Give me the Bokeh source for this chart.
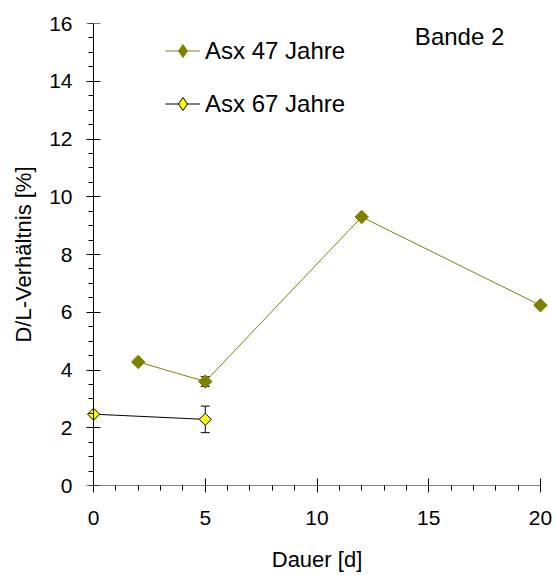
import numpy as np
from bokeh.plotting import figure
from bokeh.models import (ColumnDataSource, Whisker, TeeHead, Legend, LegendItem,
                          Label, FixedTicker, LinearAxis)
from bokeh.embed import file_html
from bokeh.resources import INLINE

# data
days_47 = [2, 5, 12, 20]
dl_47 = [4.28, 3.60, 9.30, 6.24]
err_47 = [0.0, 0.17, 0.0, 0.0]

days_67 = [0, 5]
dl_67 = [2.47, 2.29]
err_67 = [0.0, 0.46]

x_ticks = [0, 5, 10, 15, 20]
y_ticks = [0, 2, 4, 6, 8, 10, 12, 14, 16]

FONT = "Liberation Sans"
OLIVE = "#808000"

p = figure(width=555, height=577, x_range=(-0.45, 20.45), y_range=(0, 16),
           output_backend="svg", toolbar_location=None,
           min_border_left=83, min_border_right=5, min_border_top=23,
           min_border_bottom=92)
p.outline_line_color = None
p.grid.visible = False
p.background_fill_color = "white"
p.border_fill_color = "white"

# x axis
xa = p.xaxis[0]
xa.bounds = (0, 20)
xa.ticker = FixedTicker(ticks=x_ticks, minor_ticks=list(np.arange(0, 21, 1)))
xa.axis_line_color = "#808080"
xa.major_tick_line_color = "black"
xa.minor_tick_line_color = "black"
xa.major_tick_in = 7
xa.major_tick_out = 7
xa.minor_tick_in = 0
xa.minor_tick_out = 5
xa.major_label_standoff = 18
xa.axis_label = "Dauer [d]"
xa.axis_label_standoff = 19

# y axis: labels + title at frame edge (no line/ticks)
ya = p.yaxis[0]
ya.ticker = FixedTicker(ticks=y_ticks)
ya.axis_line_color = None
ya.major_tick_line_color = None
ya.minor_tick_line_color = None
ya.major_tick_in = 0
ya.major_tick_out = 0
ya.minor_tick_in = 0
ya.minor_tick_out = 0
ya.major_label_standoff = 11
ya.axis_label = "D/L-Verhältnis [%]"
ya.axis_label_standoff = 10

for ax in (xa, ya):
    ax.major_label_text_font = FONT
    ax.major_label_text_font_size = "21px"
    ax.major_label_text_color = "black"
    ax.axis_label_text_font = FONT
    ax.axis_label_text_font_size = "22px"
    ax.axis_label_text_font_style = "normal"
    ax.axis_label_text_color = "black"

# y axis line + ticks at x = 0
ya2 = LinearAxis(fixed_location=0,
                 ticker=FixedTicker(ticks=y_ticks,
                                    minor_ticks=list(np.arange(0, 16.5, 0.5))),
                 axis_line_color="black", major_tick_line_color="black",
                 minor_tick_line_color="black", major_tick_in=7,
                 major_tick_out=7, minor_tick_in=0, minor_tick_out=5,
                 major_label_standoff=0,
                 major_label_overrides={t: "" for t in y_ticks},
                 major_label_text_font_size="1px")
p.add_layout(ya2, "left")

src47 = ColumnDataSource(dict(x=days_47, y=dl_47,
                              lo=[a - b for a, b in zip(dl_47, err_47)],
                              hi=[a + b for a, b in zip(dl_47, err_47)]))
src67 = ColumnDataSource(dict(x=days_67, y=dl_67,
                              lo=[a - b for a, b in zip(dl_67, err_67)],
                              hi=[a + b for a, b in zip(dl_67, err_67)]))

# error bars
for src in (src47, src67):
    w = Whisker(source=src, base="x", upper="hi", lower="lo", dimension="height",
                line_color="black", line_width=1,
                upper_head=TeeHead(size=9, line_color="black", line_width=1),
                lower_head=TeeHead(size=9, line_color="black", line_width=1))
    p.add_layout(w)

l47 = p.line("x", "y", source=src47, line_color=OLIVE, line_width=1)
m47 = p.scatter("x", "y", source=src47, marker="square", angle=np.pi / 4,
                size=9.5, fill_color=OLIVE, line_color=OLIVE, line_width=1)
l67 = p.line("x", "y", source=src67, line_color="black", line_width=1)
m67 = p.scatter("x", "y", source=src67, marker="square", angle=np.pi / 4,
                size=8.5, fill_color="#FFFF00", line_color="black", line_width=1)

# legend sample markers (diamonds, not plotted: NaN position)
nan = float("nan")
lg47 = p.scatter([nan], [nan], marker="diamond", fill_color=OLIVE,
                 line_color=OLIVE)
lg67 = p.scatter([nan], [nan], marker="diamond", fill_color="#FFFF00",
                 line_color="black")

legend = Legend(items=[LegendItem(label="Asx 47 Jahre", renderers=[l47, lg47]),
                       LegendItem(label="Asx 67 Jahre", renderers=[l67, lg67])],
                location=(82, 365), border_line_color=None,
                background_fill_alpha=0, padding=0, margin=0, spacing=20,
                glyph_width=35, glyph_height=33, label_standoff=5,
                label_height=33, label_text_font=FONT,
                label_text_font_size="24px", label_text_color="black")
p.add_layout(legend)

p.add_layout(Label(x=14.38, y=15.55, text="Bande 2", text_font=FONT,
                   text_font_size="24px", text_baseline="middle",
                   text_color="black"))

open("out.html", "w").write(file_html(p, INLINE))
